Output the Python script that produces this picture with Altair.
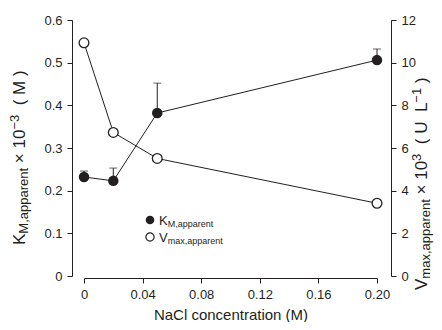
import altair as alt
import pandas as pd

# ---- data ----
nacl = [0, 0.02, 0.05, 0.20]
km = [0.232, 0.223, 0.382, 0.506]
km_err = [0.014, 0.030, 0.070, 0.026]
vmax = [10.93, 6.73, 5.51, 3.41]

x_ticks = [0, 0.04, 0.08, 0.12, 0.16, 0.20]
left_ticks = [0, 0.1, 0.2, 0.3, 0.4, 0.5, 0.6]
right_ticks = [0, 2, 4, 6, 8, 10, 12]

W, H = 293, 256
FONT = "Liberation Sans"
INK = "#231f20"

df = pd.DataFrame({
    "nacl": nacl,
    "km": km,
    "km_top": [a + b for a, b in zip(km, km_err)],
    "vmax": vmax,
})
one = pd.DataFrame({"a": [0]})

# approximate Arial/Liberation Sans advance widths (per 1000 em)
AW = {' ': 278, '×': 584, '0': 556, '1': 556, '3': 556, '(': 333, ')': 333,
      'M': 833, 'K': 667, 'V': 667, 'U': 722, 'L': 556, '−': 584, 'm': 833,
      'a': 556, 'x': 500, ',': 278, 'p': 556, 'r': 333, 'e': 556, 'n': 556, 't': 278}


def tw(s, size):
    return sum(AW.get(c, 556) for c in s) * size / 1000.0


def rich_text(pieces, x0, y0, angle):
    """pieces: list of (text, size, shift); shift = baseline shift (down positive).
    Spaces are turned into gaps (text marks trim whitespace)."""
    layers = []
    pos = 0.0
    for text, size, shift in pieces:
        for chunk in text.split(" "):
            if chunk:
                if angle == 270:
                    x, y = x0 + shift, y0 - pos
                else:
                    x, y = x0 + pos, y0 + shift
                layers.append(
                    alt.Chart(one).mark_text(
                        text=chunk, font=FONT, fontSize=size, color=INK, angle=angle,
                        align="left", baseline="alphabetic"
                    ).encode(x=alt.value(x), y=alt.value(y))
                )
                pos += tw(chunk, size)
            pos += tw(" ", size)
        pos -= tw(" ", size)
    return layers


xenc = alt.X(
    "nacl:Q",
    scale=alt.Scale(domain=[0, 0.2], nice=False, zero=False),
    axis=alt.Axis(
        values=x_ticks,
        labelExpr="datum.value == 0 ? '0' : format(datum.value, '.2f')",
        labelFlush=False,
        title="NaCl concentration (M)",
        titleFont=FONT, titleFontSize=15, titleFontWeight="normal", titleColor=INK,
        titlePadding=6, offset=2, labelPadding=5,
    ),
)

left_axis = alt.Axis(
    values=left_ticks, title=None, offset=12, orient="left",
    labelExpr="datum.value == 0 ? '0' : format(datum.value, '.1f')",
    labelPadding=5,
)
right_axis = alt.Axis(values=right_ticks, title=None, offset=14, orient="right", labelPadding=5)

yl_scale = alt.Scale(domain=[0, 0.6], nice=False, zero=False)
yr_scale = alt.Scale(domain=[0, 12], nice=False, zero=False)

base = alt.Chart(df)

km_line = base.mark_line(color=INK, strokeWidth=1).encode(
    x=xenc, y=alt.Y("km:Q", scale=yl_scale, axis=left_axis))
km_err_rule = base.mark_rule(color=INK, strokeWidth=1).encode(
    x="nacl:Q", y=alt.Y("km:Q", scale=yl_scale, axis=left_axis), y2="km_top:Q")
km_cap = base.mark_tick(orient="horizontal", size=8, thickness=1, color=INK).encode(
    x="nacl:Q", y=alt.Y("km_top:Q", scale=yl_scale, axis=left_axis))
km_pts = base.mark_point(filled=True, shape="circle", size=110, color=INK, opacity=1).encode(
    x="nacl:Q", y=alt.Y("km:Q", scale=yl_scale, axis=left_axis))

left = alt.layer(km_line, km_err_rule, km_cap, km_pts)

v_line = base.mark_line(color=INK, strokeWidth=1).encode(
    x="nacl:Q", y=alt.Y("vmax:Q", scale=yr_scale, axis=right_axis))
v_pts = base.mark_point(filled=True, shape="circle", size=95, fill="white",
                        stroke=INK, strokeWidth=1.3, opacity=1).encode(
    x="nacl:Q", y=alt.Y("vmax:Q", scale=yr_scale, axis=right_axis))

right = alt.layer(v_line, v_pts)

# axis titles with sub/superscripts
left_title = rich_text(
    [("K", 17, 0), ("M,apparent", 13, 3), (" × 10", 17, 0), ("−3", 13, -6), ("  ( M )", 17, 0)],
    -59, 225, 270)
right_title = rich_text(
    [("V", 17, 0), ("max,apparent", 13, 3), (" × 10", 17, 0), ("3", 13, -6),
     ("  ( U  L", 17, 0), ("−1", 13, -6), (" )", 17, 0)],
    343, 270, 270)

# legend
leg_df = pd.DataFrame({"a": [0]})
leg_k_pt = alt.Chart(leg_df).mark_point(filled=True, shape="circle", size=75, color=INK, opacity=1).encode(
    x=alt.value(66), y=alt.value(200))
leg_v_pt = alt.Chart(leg_df).mark_point(filled=True, shape="circle", size=68, fill="white",
                                        stroke=INK, strokeWidth=1.2, opacity=1).encode(
    x=alt.value(66), y=alt.value(217))
leg_k_txt = rich_text([("K", 13, 0), ("M,apparent", 9, 2)], 75, 204.5, 0)
leg_v_txt = rich_text([("V", 13, 0), ("max,apparent", 9, 2)], 75, 221.5, 0)

main = alt.layer(left, right).resolve_scale(y="independent")

chart = alt.layer(
    main, *left_title, *right_title, leg_k_pt, leg_v_pt, *leg_k_txt, *leg_v_txt
).properties(
    width=W, height=H,
    autosize=alt.AutoSizeParams(type="none"),
    padding={"left": 76, "top": 12, "right": 57, "bottom": 46},
).configure_view(stroke=None).configure_axis(
    grid=False, domainColor=INK, tickColor=INK, labelColor=INK,
    labelFont=FONT, labelFontSize=13, tickSize=5, domainWidth=1, tickWidth=1,
)

chart.save("out.html", embed_options={"renderer": "svg", "actions": False})
